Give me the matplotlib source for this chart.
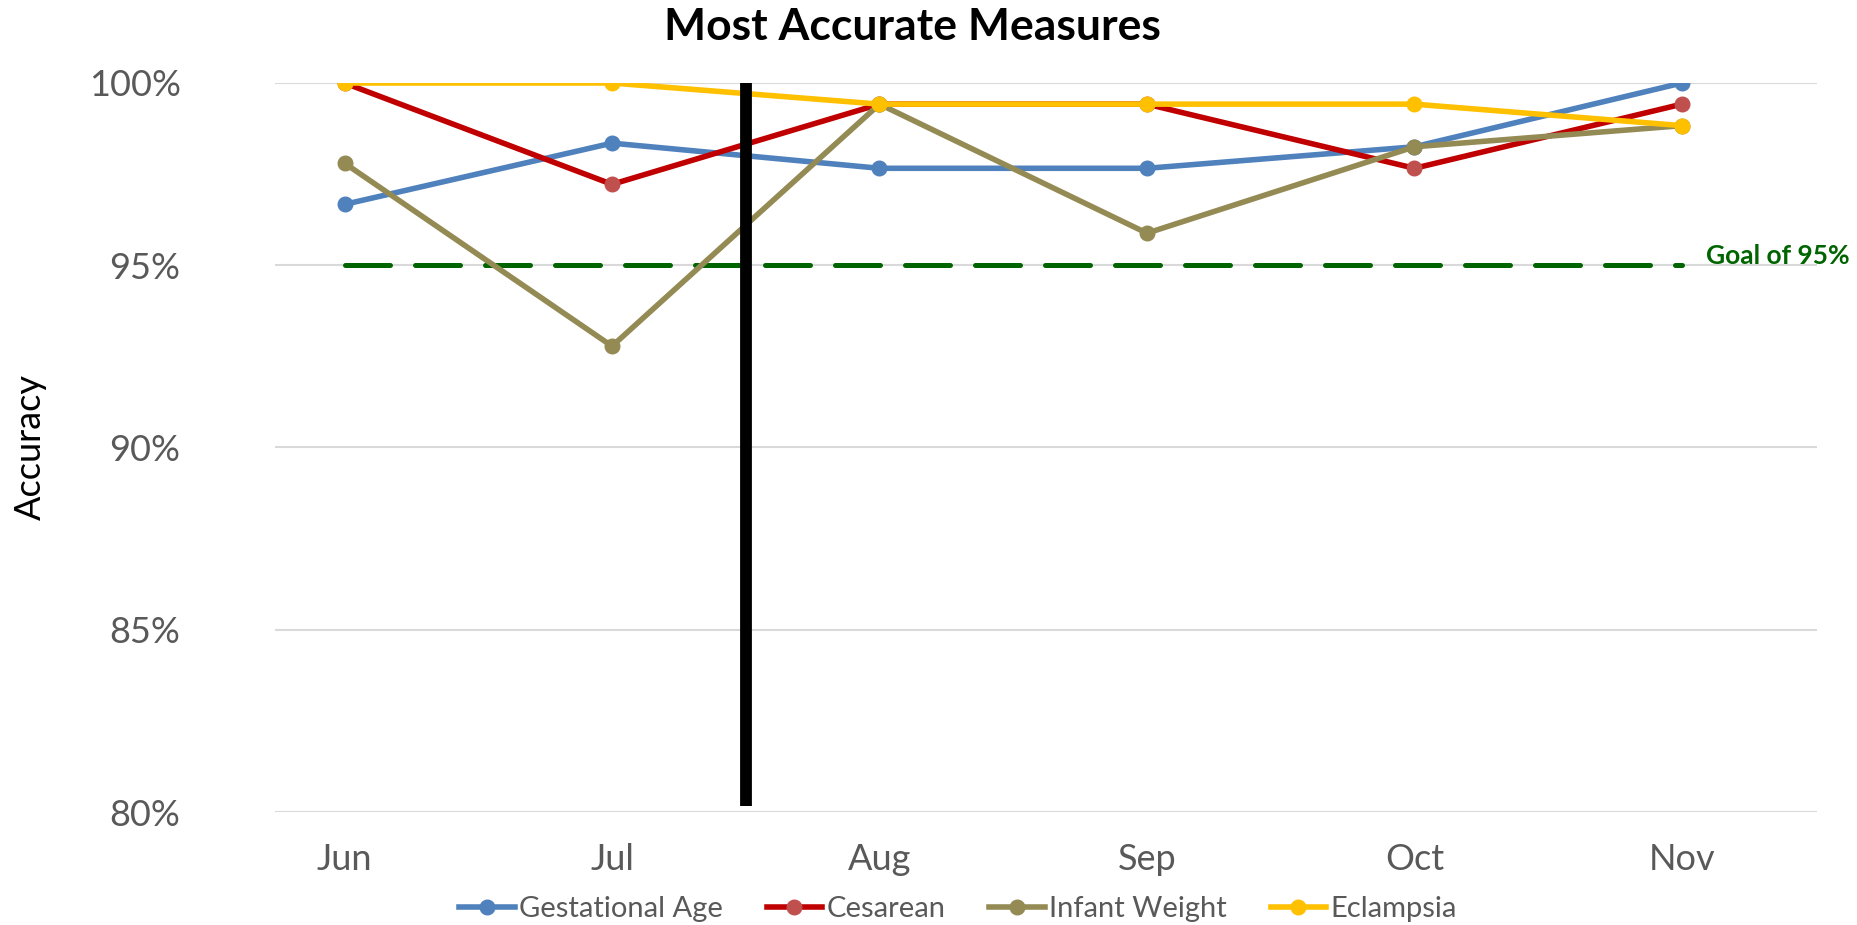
import matplotlib

matplotlib.use("Agg")
import matplotlib.pyplot as plt
from matplotlib.ticker import FuncFormatter

months = ["Jun", "Jul", "Aug", "Sep", "Oct", "Nov"]
gestational_age = [96.67, 98.35, 97.66, 97.66, 98.25, 100.0]
cesarean = [100.0, 97.22, 99.42, 99.42, 97.66, 99.42]
infant_weight = [97.80, 92.78, 99.42, 95.88, 98.25, 98.83]
eclampsia = [100.0, 100.0, 99.42, 99.42, 99.42, 98.83]
goal = 95.0
divider_x = 1.5

plt.rcParams["font.family"] = ["Lato", "DejaVu Sans"]

fig = plt.figure(figsize=(18.58, 9.25), dpi=100)
ax = fig.add_axes([275 / 1858, 1 - 812 / 925, (1817 - 275) / 1858, (812 - 83) / 925])

x = list(range(len(months)))

# goal line under the series
ax.plot(x, [goal] * len(x), color="#006400", linewidth=3.6, dashes=(9, 5),
        dash_capstyle="round", zorder=2)
ax.text(5.09, goal + 0.25, "Goal of 95%", color="#006400", fontsize=19,
        fontweight="bold", ha="left", va="center", clip_on=False)

series = [
    ("Gestational Age", gestational_age, "#4F81BD", "#4F81BD"),
    ("Cesarean", cesarean, "#C00000", "#C0504D"),
    ("Infant Weight", infant_weight, "#948A54", "#948A54"),
    ("Eclampsia", eclampsia, "#FFC000", "#FFC000"),
]
for name, vals, lc, mc in series:
    ax.plot(x, vals, color=lc, linewidth=4.0, marker="o", markersize=10.5,
            markerfacecolor=mc, markeredgecolor=mc, label=name, zorder=3)

# vertical separator
ax.plot([divider_x, divider_x], [80.16, 100.0], color="black", linewidth=8.5,
        solid_capstyle="butt", zorder=5)

ax.set_ylim(80, 100)
ax.set_xlim(-0.26, 5.505)
ax.set_yticks([80, 85, 90, 95, 100])
ax.yaxis.set_major_formatter(FuncFormatter(lambda v, p: f"{v:.0f}%"))
ax.set_xticks(x)
ax.set_xticklabels(months)
ax.grid(True, axis="y", color="#D9D9D9", linewidth=1.5, zorder=0)
ax.set_axisbelow(True)
for s in ax.spines.values():
    s.set_visible(False)
ax.tick_params(axis="both", length=0, labelcolor="#595959", labelsize=26)
ax.tick_params(axis="y", pad=68)
ax.tick_params(axis="x", pad=22)

fig.text(912 / 1858, 1 - 27 / 925, "Most Accurate Measures", fontsize=32,
         fontweight="bold", ha="center", va="center")
fig.text(30 / 1858, 1 - 447 / 925, "Accuracy", rotation=90, fontsize=26,
         ha="center", va="center", color="black")

fig.legend(loc="center", bbox_to_anchor=(958 / 1858, 1 - 909 / 925), ncol=4,
           frameon=False, fontsize=21, handlelength=1.9, handletextpad=0.15,
           columnspacing=1.5, labelcolor="#595959", numpoints=1,
           borderpad=0.2)

fig.savefig("out.png", dpi=100)
